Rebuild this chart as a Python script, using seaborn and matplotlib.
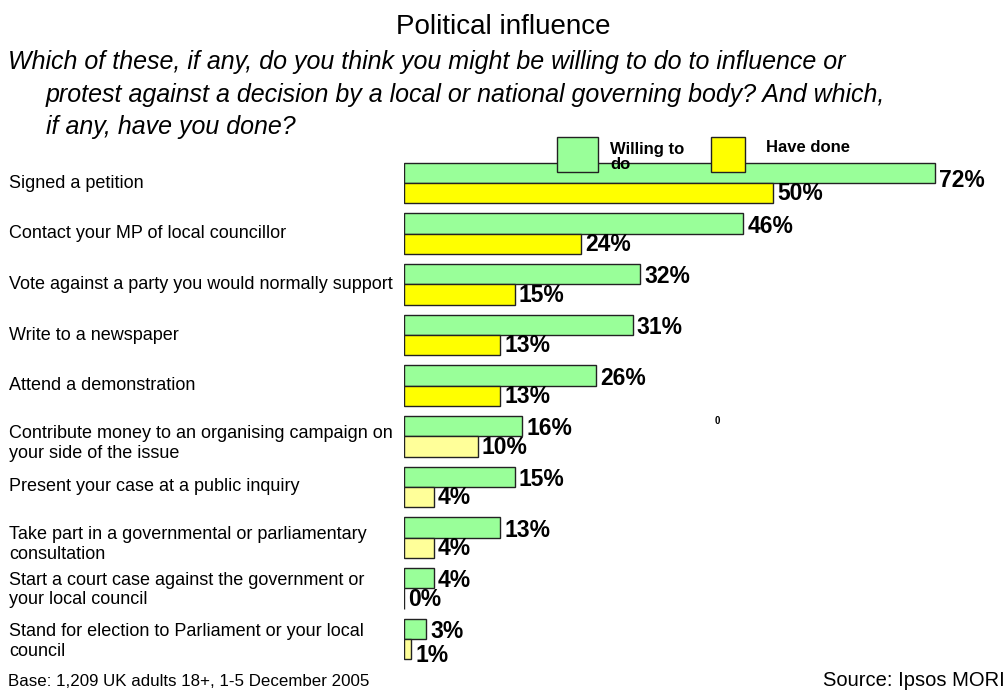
import matplotlib
matplotlib.use("Agg")
import matplotlib.pyplot as plt
from matplotlib.patches import Rectangle
import seaborn as sns
import pandas as pd

# Survey data: share of respondents (%)
activities = [
    "Signed a petition",
    "Contact your MP of local councillor",
    "Vote against a party you would normally support",
    "Write to a newspaper",
    "Attend a demonstration",
    "Contribute money to an organising campaign on\nyour side of the issue",
    "Present your case at a public inquiry",
    "Take part in a governmental or parliamentary\nconsultation",
    "Start a court case against the government or\nyour local council",
    "Stand for election to Parliament or your local\ncouncil",
]
willing_to_do = [72, 46, 32, 31, 26, 16, 15, 13, 4, 3]
have_done = [50, 24, 15, 13, 13, 10, 4, 4, 0, 1]
series_names = ["Willing to do", "Have done"]

GREEN = "#99FF99"
YELLOW = "#FFFF00"
PALE_YELLOW = "#FFFF99"
EDGE = "#222222"

sns.set_theme(style="white")
plt.rcParams["font.family"] = ["Liberation Sans", "DejaVu Sans"]

W, H = 1008, 690
fig = plt.figure(figsize=(W / 100, H / 100), dpi=100)


def fx(x):
    return x / W


def fy(y):
    return 1 - y / H


# Bar area: 0% at x=404, 72% at x=935
x0_px, x72_px = 404, 935
xmax = 80
px_per_unit = (x72_px - x0_px) / 72
ax_w = px_per_unit * xmax
row_top, row_bottom = 157.67, 664.33
ax = fig.add_axes([fx(x0_px), fy(row_bottom), ax_w / W, (row_bottom - row_top) / H])

df = pd.DataFrame({
    "activity": activities * 2,
    "value": willing_to_do + have_done,
    "series": [series_names[0]] * len(activities) + [series_names[1]] * len(activities),
})

sns.barplot(
    data=df, y="activity", x="value", hue="series", order=activities,
    hue_order=series_names, palette=[GREEN, YELLOW], saturation=1, orient="h",
    width=0.8, edgecolor=EDGE, linewidth=1.0, legend=False, ax=ax,
)

# Lighter shade for the less common "have done" activities
for i, patch in enumerate(ax.containers[1]):
    if i >= 5:
        patch.set_facecolor(PALE_YELLOW)

ax.set_xlim(0, xmax)
ax.set_ylim(len(activities) - 0.5, -0.5)
ax.set_xlabel("")
ax.set_ylabel("")
ax.set_xticks([])
ax.tick_params(axis="y", length=0)
ax.set_yticklabels([])
for s in ax.spines.values():
    s.set_visible(False)

# Category labels, left aligned at the page margin (two-line ones sit a bit lower)
label_drop = {5: 5, 7: 5, 8: 1.2, 9: 2}
for i, name in enumerate(activities):
    ax.annotate(name, xy=(fx(9), i), xycoords=(fig.transFigure, ax.transData),
                xytext=(0, -label_drop.get(i, 0)), textcoords="offset points",
                ha="left", va="center", fontsize=13, color="black", linespacing=1.2)

# Value labels; a few are nudged down so neighbouring labels stay apart
green_drop = {0: 3.6}
yellow_drop = {9: 4.3}
for container, values, base_drop, extra in [
    (ax.containers[0], willing_to_do, 1.8, green_drop),
    (ax.containers[1], have_done, 0.4, yellow_drop),
]:
    for i, (patch, v) in enumerate(zip(container, values)):
        yc = patch.get_y() + patch.get_height() / 2
        drop = base_drop + extra.get(i, 0)
        ax.annotate(f"{v}%", xy=(v, yc), xytext=(3, -drop), textcoords="offset points",
                    ha="left", va="center", fontsize=16.5, fontweight="bold", color="black")

# Titles
fig.text(fx(503), fy(27), "Political influence", ha="center", va="center",
         fontsize=20, color="black")
sub_kw = dict(ha="left", va="center", fontsize=18, style="italic", color="black")
fig.text(fx(8), fy(62), "Which of these, if any, do you think you might be willing to do to influence or",
         **sub_kw)
fig.text(fx(46), fy(95), "protest against a decision by a local or national governing body? And which,",
         **sub_kw)
fig.text(fx(46), fy(127), "if any, have you done?", **sub_kw)

# Legend
fig.add_artist(Rectangle((fx(557), fy(172)), 41 / W, 35 / H, transform=fig.transFigure,
                         facecolor=GREEN, edgecolor=EDGE, linewidth=1.0))
fig.add_artist(Rectangle((fx(711), fy(172)), 34 / W, 35 / H, transform=fig.transFigure,
                         facecolor=YELLOW, edgecolor=EDGE, linewidth=1.0))
fig.text(fx(610), fy(157), "Willing to\ndo", ha="left", va="center", fontsize=12,
         fontweight="bold", color="black", linespacing=1.08)
fig.text(fx(766), fy(148), "Have done", ha="left", va="center", fontsize=12,
         fontweight="bold", color="black")

# Stray chart annotation
fig.text(fx(717), fy(421), "0", ha="center", va="center", fontsize=7,
         fontweight="bold", color="black")

# Footer
fig.text(fx(8), fy(681), "Base: 1,209 UK adults 18+, 1-5 December 2005", ha="left",
         va="center", fontsize=12.2, color="black")
fig.text(fx(1005), fy(680), "Source: Ipsos MORI", ha="right", va="center",
         fontsize=14.5, color="black")

fig.savefig("out.png", dpi=100, facecolor="white")
